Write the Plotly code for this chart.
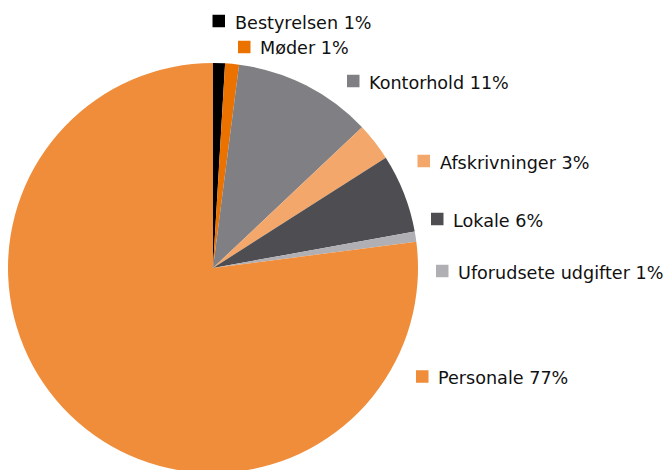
import plotly.graph_objects as go

# ---- data ----
categories = ["Bestyrelsen", "Møder", "Kontorhold", "Afskrivninger", "Lokale",
              "Uforudsete udgifter", "Personale"]
values = [0.94, 1.09, 10.93, 3.0, 6.2, 0.8, 77.04]
pct_labels = ["1%", "1%", "11%", "3%", "6%", "1%", "77%"]

# ---- style ----
colors = ["#000000", "#EC7200", "#807F83", "#F4A76A", "#4E4D52", "#B0B0B4", "#EF8D3B"]
W, H = 670, 476  # figure slightly taller than the window; bottom of pie is clipped like the reference
# label anchor positions in pixels (square left x, vertical centre y)
label_pos = [(212.5, 21), (238, 47), (347, 81), (417.5, 161), (431, 219), (436, 271), (416, 376.5)]
SQ = 12.5
GAP = 8.5
FONT = dict(family="DejaVu Sans", size=17.6, color="#111111")

fig = go.Figure(go.Pie(
    labels=categories,
    values=values,
    sort=False,
    direction="clockwise",
    rotation=0,
    marker=dict(colors=colors, line=dict(width=0)),
    textinfo="none",
    hoverinfo="label+percent",
    showlegend=False,
    domain=dict(x=[8 / W, 418 / W], y=[(H - 473) / H, (H - 63) / H]),
))

shapes = []
annotations = []
for cat, pct, col, (sx, cy) in zip(categories, pct_labels, colors, label_pos):
    shapes.append(dict(type="rect", xref="paper", yref="paper",
                       x0=sx / W, x1=(sx + SQ) / W,
                       y0=1 - (cy + SQ / 2) / H, y1=1 - (cy - SQ / 2) / H,
                       fillcolor=col, line=dict(width=0)))
    annotations.append(dict(xref="paper", yref="paper",
                            x=(sx + SQ + GAP) / W, y=1 - (cy + 1.5) / H,
                            xanchor="left", yanchor="middle",
                            text=f"{cat} {pct}", showarrow=False, font=FONT,
                            borderpad=0))

fig.update_layout(
    width=W, height=H,
    margin=dict(l=0, r=0, t=0, b=0),
    paper_bgcolor="white", plot_bgcolor="white",
    shapes=shapes, annotations=annotations,
)

fig.write_html("out.html", config={"displayModeBar": False},
               post_script="document.body.style.margin='0';document.body.style.overflow='hidden';")
